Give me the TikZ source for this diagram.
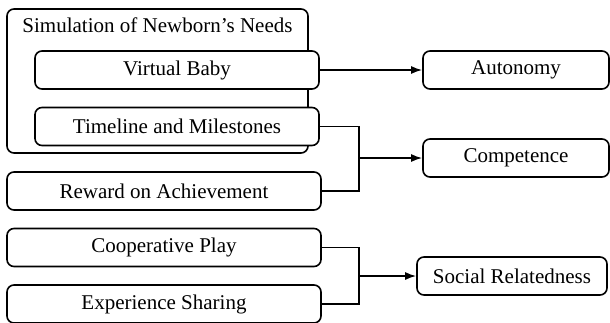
\documentclass[tikz,border=0pt]{standalone}
\usepackage{fontspec}
\setmainfont{Liberation Serif}
\usetikzlibrary{arrows.meta}
\begin{document}
\begin{tikzpicture}[x=1pt, y=-1pt,
  box/.style={draw, line width=1.6pt, rounded corners=7pt, fill=white,
    inner sep=0pt, minimum height=38pt, font=\fontsize{21}{25}\selectfont},
  link/.style={line width=1.7pt, >={Latex[length=11pt,width=8pt]}}]
\useasboundingbox (0,0) rectangle (610,322);

\node [box, minimum width=301pt, minimum height=144pt] (sim) at (157.5,81) {};
\node [font=\fontsize{21}{25}\selectfont, inner sep=0pt] (simtitle) at (157.5,25) {Simulation of Newborn’s Needs};

\node [box, minimum width=284pt] (baby) at (177,70) {Virtual Baby};
\node [box, minimum width=284pt] (mile) at (177,126.5) {Timeline and Milestones};
\node [box, minimum width=314pt] (reward) at (164,191) {Reward on Achievement};
\node [box, minimum width=314pt] (coop) at (164,247.5) {Cooperative Play};
\node [box, minimum width=314pt] (share) at (164,304) {Experience Sharing};

\node [box, minimum width=186pt] (auto) at (516,70) {Autonomy};
\node [box, minimum width=186pt] (comp) at (516,158) {Competence};
\node [box, minimum width=190pt] (social) at (512,276) {Social Relatedness};

\coordinate (compjoin) at (359,158);
\coordinate (socjoin) at (359,276);

\draw [link, ->] (baby) -- (auto);
\draw [link] (mile.east) -| (compjoin);
\draw [link] (reward.east) -| (compjoin);
\draw [link, ->] (compjoin) -- (comp.west);
\draw [link] (coop.east) -| (socjoin);
\draw [link] (share.east) -| (socjoin);
\draw [link, ->] (socjoin) -- (social.west);
\end{tikzpicture}
\end{document}
